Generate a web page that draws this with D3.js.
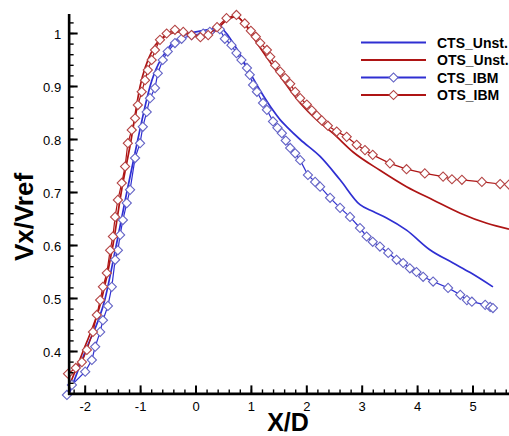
<!DOCTYPE html>
<html>
<head>
<meta charset="utf-8">
<script src="https://cdn.jsdelivr.net/npm/d3@7"></script>
<style>
  body { margin: 0; background: #fff; }
  svg { display: block; font-family: "Liberation Sans", Arial, sans-serif; }
</style>
</head>
<body>
<div id="chart"></div>
<script>
// series (X/D, Vx/Vref)
const ctsUnstX = [-2.29, -2.0, -1.64, -1.44, -1.25, -1.05, -0.83, -0.52, -0.25, 0.0, 0.25, 0.43, 0.67, 0.915, 1.155, 1.39, 1.52, 1.64, 1.88, 2.24, 2.6, 2.96, 3.2, 3.44, 3.8, 4.22, 4.64, 4.95, 5.36];
const ctsUnstY = [0.32, 0.40, 0.50, 0.60, 0.70, 0.80, 0.90, 0.97, 0.995, 1.003, 1.008, 1.01, 0.982, 0.937, 0.893, 0.855, 0.837, 0.824, 0.80, 0.768, 0.724, 0.677, 0.664, 0.652, 0.629, 0.592, 0.567, 0.549, 0.522];

const otsUnstX = [-2.29, -2.04, -1.70, -1.50, -1.35, -1.17, -1.01, -0.78, -0.55, -0.3, -0.05, 0.15, 0.35, 0.55, 0.72, 0.9, 1.05, 1.27, 1.57, 1.88, 2.18, 2.47, 2.84, 3.32, 3.8, 4.28, 4.77, 5.25, 5.65];
const otsUnstY = [0.335, 0.40, 0.50, 0.60, 0.70, 0.80, 0.90, 0.97, 0.995, 1.003, 0.998, 0.993, 1.005, 1.025, 1.032, 1.015, 0.99, 0.956, 0.912, 0.869, 0.837, 0.812, 0.776, 0.742, 0.711, 0.686, 0.661, 0.642, 0.631];

const ctsIbmX = [-2.33, -2.24, -2.0, -1.88, -1.82, -1.73, -1.68, -1.59, -1.52, -1.46, -1.41, -1.37, -1.32, -1.25, -1.19, -1.10, -1.01, -0.96, -0.89, -0.83, -0.74, -0.69, -0.60, -0.51, -0.38, -0.26, -0.08, 0.13, 0.25, 0.43, 0.52, 0.64, 0.73, 0.82, 0.92, 0.97, 1.03, 1.10, 1.21, 1.28, 1.39, 1.47, 1.55, 1.62, 1.70, 1.79, 1.88, 2.02, 2.15, 2.24, 2.42, 2.6, 2.78, 2.96, 3.08, 3.19, 3.32, 3.47, 3.62, 3.74, 3.86, 3.98, 4.10, 4.28, 4.55, 4.77, 4.89, 4.98, 5.22, 5.31, 5.36];
const ctsIbmY = [0.318, 0.337, 0.362, 0.384, 0.409, 0.437, 0.459, 0.486, 0.522, 0.573, 0.591, 0.62, 0.648, 0.68, 0.705, 0.765, 0.793, 0.824, 0.852, 0.878, 0.897, 0.925, 0.95, 0.966, 0.982, 0.99, 0.997, 1.0, 1.003, 1.008, 0.99, 0.978, 0.963, 0.95, 0.935, 0.922, 0.903, 0.89, 0.869, 0.856, 0.834, 0.822, 0.812, 0.798, 0.784, 0.774, 0.761, 0.733, 0.72, 0.711, 0.69, 0.671, 0.654, 0.633, 0.617, 0.607, 0.598, 0.586, 0.573, 0.567, 0.557, 0.55, 0.541, 0.532, 0.52, 0.507, 0.497, 0.494, 0.488, 0.484, 0.482];

const otsIbmX = [-2.31, -2.17, -2.06, -1.97, -1.86, -1.79, -1.73, -1.68, -1.61, -1.55, -1.50, -1.46, -1.41, -1.34, -1.28, -1.23, -1.16, -1.10, -1.05, -0.98, -0.92, -0.87, -0.80, -0.74, -0.65, -0.53, -0.38, -0.23, -0.08, 0.08, 0.22, 0.38, 0.55, 0.73, 0.88, 0.99, 1.08, 1.16, 1.28, 1.34, 1.43, 1.52, 1.61, 1.70, 1.79, 1.88, 2.00, 2.09, 2.18, 2.27, 2.38, 2.54, 2.72, 2.9, 3.05, 3.19, 3.50, 3.80, 4.13, 4.46, 4.62, 4.80, 5.16, 5.49, 5.65];
const otsIbmY = [0.358, 0.369, 0.38, 0.403, 0.437, 0.469, 0.497, 0.522, 0.548, 0.591, 0.617, 0.654, 0.686, 0.718, 0.749, 0.793, 0.818, 0.84, 0.865, 0.89, 0.912, 0.931, 0.95, 0.969, 0.988, 1.0, 1.007, 1.003, 0.997, 0.993, 0.997, 1.012, 1.029, 1.035, 1.019, 1.005, 0.994, 0.982, 0.969, 0.956, 0.94, 0.928, 0.916, 0.905, 0.89, 0.878, 0.866, 0.855, 0.845, 0.836, 0.826, 0.815, 0.805, 0.79, 0.78, 0.771, 0.755, 0.744, 0.736, 0.73, 0.725, 0.724, 0.72, 0.716, 0.715];

const xMajor = [-2, -1, 0, 1, 2, 3, 4, 5];
const yMajor = [0.4, 0.5, 0.6, 0.7, 0.8, 0.9, 1];
const legendNames = ["CTS_Unst.", "OTS_Unst.", "CTS_IBM", "OTS_IBM"];

const width = 509, height = 436;
const blue = "#2f2fd2", red = "#ae1414";
const blueMk = "#6464c6", redMk = "#b44444";

const x = d3.scaleLinear().domain([-2, 5]).range([85.2, 473]);
const y = d3.scaleLinear().domain([0.4, 1]).range([351.5, 33.5]);
const x0 = x(-2.29), y0 = y(0.32), yTop = y(1.037);

const svg = d3.select("#chart").append("svg")
  .attr("width", width)
  .attr("height", height);

function pairs(xs, ys) {
  return xs.map((d, i) => [d, ys[i]]);
}

const smooth = d3.line().x(d => x(d[0])).y(d => y(d[1])).curve(d3.curveMonotoneX);
const line = d3.line().x(d => x(d[0])).y(d => y(d[1]));

let series = [
  { data: pairs(ctsUnstX, ctsUnstY), color: blue, mk: null, w: 1.7 },
  { data: pairs(otsUnstX, otsUnstY), color: red, mk: null, w: 1.7 },
  { data: pairs(ctsIbmX, ctsIbmY), color: blue, mk: blueMk, w: 1.2 },
  { data: pairs(otsIbmX, otsIbmY), color: red, mk: redMk, w: 1.2 },
];

const plot = svg.append("g");
const diamond = d3.symbol().type(d3.symbolSquare).size(42);

series.forEach(s => {
  plot.append("path")
    .attr("d", s.mk ? line(s.data) : smooth(s.data))
    .attr("fill", "none")
    .attr("stroke", s.color)
    .attr("stroke-width", s.w);
  if (s.mk) {
    plot.append("g").selectAll("path")
      .data(s.data)
      .enter()
      .append("path")
      .attr("d", diamond)
      .attr("transform", d => `translate(${x(d[0])},${y(d[1])}) rotate(45)`)
      .attr("fill", "#fff")
      .attr("stroke", s.mk)
      .attr("stroke-width", 1.1);
  }
});

// axes (ticks point inward, like the original plot)
const ax = svg.append("g").attr("stroke", "#000");
ax.append("line").attr("x1", x0).attr("x2", x0).attr("y1", yTop).attr("y2", y0 + 1).attr("stroke-width", 2.6);
ax.append("line").attr("x1", x0 - 1).attr("x2", width).attr("y1", y0).attr("y2", y0).attr("stroke-width", 2.6);

const xMinor = d3.range(-2.2, 5.7, 0.2).filter(v => v > -2.29);
const yMinor = d3.range(0.34, 1.03, 0.02);

ax.selectAll(".xm").data(xMinor).enter().append("line")
  .attr("x1", d => x(d)).attr("x2", d => x(d))
  .attr("y1", y0).attr("y2", y0 - 4.5).attr("stroke-width", 1.4);
ax.selectAll(".xM").data(xMajor).enter().append("line")
  .attr("x1", d => x(d)).attr("x2", d => x(d))
  .attr("y1", y0).attr("y2", y0 - 8.5).attr("stroke-width", 2);
ax.selectAll(".ym").data(yMinor).enter().append("line")
  .attr("y1", d => y(d)).attr("y2", d => y(d))
  .attr("x1", x0).attr("x2", x0 + 4.5).attr("stroke-width", 1.4);
ax.selectAll(".yM").data(yMajor).enter().append("line")
  .attr("y1", d => y(d)).attr("y2", d => y(d))
  .attr("x1", x0).attr("x2", x0 + 8.5).attr("stroke-width", 2);

svg.append("g").selectAll("text").data(xMajor).enter().append("text")
  .attr("x", d => x(d))
  .attr("y", y0 + 17)
  .attr("text-anchor", "middle")
  .attr("font-size", 13)
  .text(d => d);

svg.append("g").selectAll("text").data(yMajor).enter().append("text")
  .attr("x", x0 - 8)
  .attr("y", d => y(d) + 5)
  .attr("text-anchor", "end")
  .attr("font-size", 13)
  .text(d => d);

svg.append("text")
  .attr("x", 288).attr("y", 431)
  .attr("text-anchor", "middle")
  .attr("font-size", 25).attr("font-weight", "bold")
  .text("X/D");

svg.append("text")
  .attr("transform", "translate(33,217) rotate(-90)")
  .attr("text-anchor", "middle")
  .attr("font-size", 26).attr("font-weight", "bold")
  .text("Vx/Vref");

// legend
const leg = svg.append("g");
const legRows = [42.5, 60, 77.5, 95];
legendNames.forEach((name, i) => {
  const s = series[i], ly = legRows[i];
  leg.append("line")
    .attr("x1", 361).attr("x2", 426).attr("y1", ly).attr("y2", ly)
    .attr("stroke", s.color).attr("stroke-width", 1.8);
  if (s.mk) {
    leg.append("path")
      .attr("d", diamond)
      .attr("transform", `translate(393.5,${ly}) rotate(45)`)
      .attr("fill", "#fff").attr("stroke", s.mk).attr("stroke-width", 1.1);
  }
  leg.append("text")
    .attr("x", 437).attr("y", ly + 5)
    .attr("font-size", 14).attr("font-weight", "bold")
    .text(name);
});
</script>
</body>
</html>
